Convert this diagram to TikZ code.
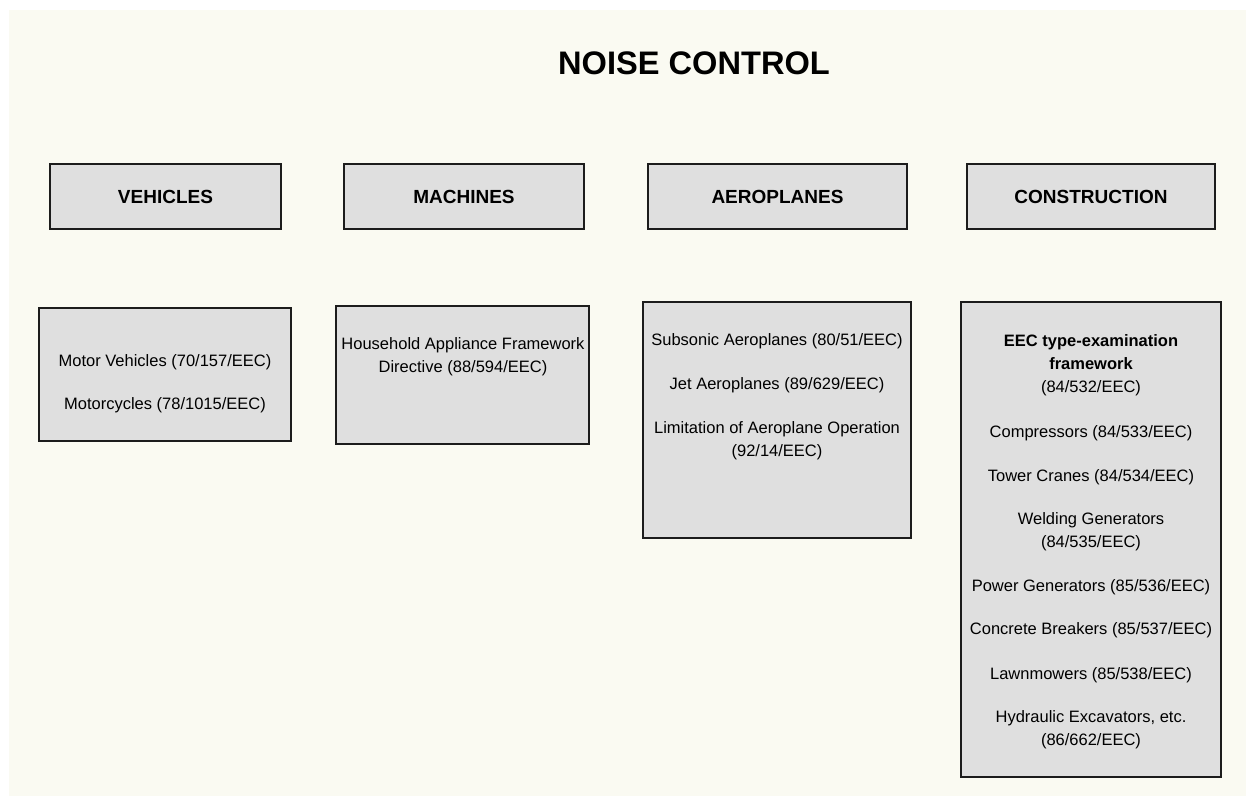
\documentclass[tikz,border=0pt]{standalone}
\usepackage{fontspec}
\setmainfont{Liberation Sans}
\usetikzlibrary{positioning}

\begin{document}
\begin{tikzpicture}
		[x=1pt,y=-1pt,line cap=round,
		%Styles
		head box/.style={draw=boxline,line width=2.6pt,fill=boxfill,inner sep=0pt,minimum height=65pt,font=\fontsize{19}{23}\selectfont\bfseries},
		list box/.style={draw=boxline,line width=2.6pt,fill=boxfill,inner sep=0pt},
		list text/.style={anchor=north,inner sep=0pt,align=center,font=\fontsize{16.5}{23}\selectfont}
		]
		
		%Colors
		\definecolor{pagecream}{RGB}{250,250,242}
		\definecolor{boxfill}{RGB}{223,223,223}
		\definecolor{boxline}{RGB}{28,28,28}
		
		%Page
		\useasboundingbox (0,0) rectangle (1246,796);
		\fill[pagecream] (9,10) rectangle (1246,796);
		
		%Title
		\node[font=\fontsize{32.6}{38}\selectfont\bfseries] (title) at (694,63) {NOISE CONTROL};
		
		%The headings
		\node[head box,minimum width=231pt] (vehicles) at (165.5,196.5) {VEHICLES};
		\node[head box,minimum width=240pt] (machines) at (464,196.5) {MACHINES};
		\node[head box,minimum width=259pt] (aeroplanes) at (777.5,196.5) {AEROPLANES};
		\node[head box,minimum width=248pt] (construction) at (1091,196.5) {CONSTRUCTION};
		
		%The lists
		\node[list box,minimum width=252pt,minimum height=133pt] (vehlist) at (165,374.5) {};
		\node[list box,minimum width=253pt,minimum height=138pt] (machlist) at (462.5,375) {};
		\node[list box,minimum width=268pt,minimum height=236pt] (aerolist) at (777,420) {};
		\node[list box,minimum width=260pt,minimum height=475pt] (conslist) at (1091,539.5) {};
		
		\node[list text] (vehtext) at (165,354) {Motor Vehicles (70/157/EEC)\\[20pt]Motorcycles (78/1015/EEC)};
		\node[list text] (machtext) at (463,337) {Household Appliance Framework\\Directive (88/594/EEC)};
		\node[list text] (aerotext) at (777,333) {Subsonic Aeroplanes (80/51/EEC)\\[21pt]Jet Aeroplanes (89/629/EEC)\\[21pt]Limitation of Aeroplane Operation\\(92/14/EEC)};
		\node[list text] (constext) at (1091,334) {\textbf{EEC type-examination}\\\textbf{framework}\\(84/532/EEC)\\[22pt]Compressors (84/533/EEC)\\[21pt]Tower Cranes (84/534/EEC)\\[20pt]Welding Generators\\(84/535/EEC)\\[21pt]Power Generators (85/536/EEC)\\[20pt]Concrete Breakers (85/537/EEC)\\[22pt]Lawnmowers (85/538/EEC)\\[20pt]Hydraulic Excavators, etc.\\(86/662/EEC)};
	\end{tikzpicture}
\end{document}
